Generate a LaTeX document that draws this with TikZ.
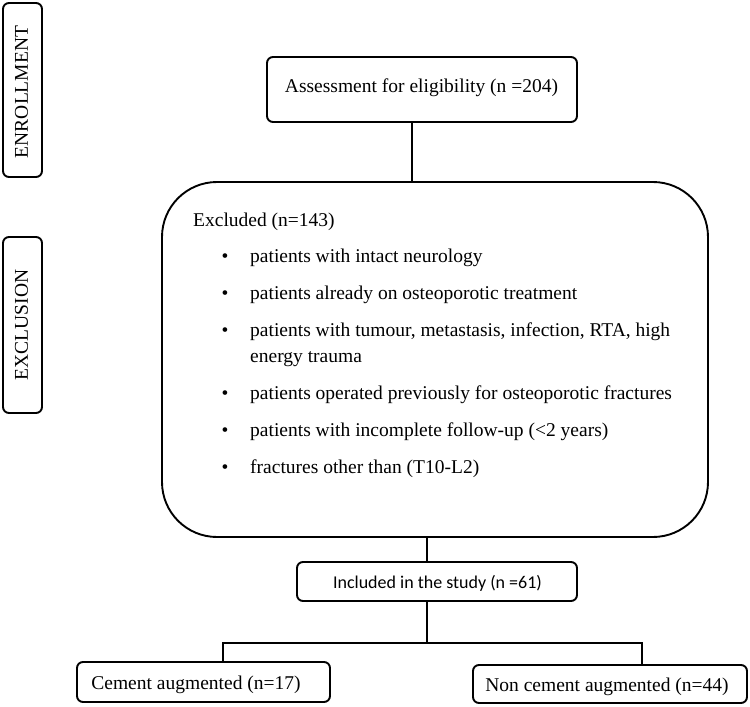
\documentclass[tikz,border=0pt]{standalone}
\usepackage{fontspec}
\setmainfont{Liberation Serif}
\newfontfamily\calib{Carlito}
\begin{document}
\begin{tikzpicture}[x=1pt,y=-1pt,
  box/.style={draw=black, line width=1.9pt, rounded corners=6pt, inner sep=0pt},
  bigbox/.style={draw=black, line width=1.9pt, rounded corners=55pt, inner sep=0pt},
  conn/.style={draw=black, line width=1.3pt},
  txt/.style={font=\fontsize{19.5}{23}\selectfont, inner sep=0pt},
  item/.style={txt, anchor=base west},
  bul/.style={txt, anchor=base}]
\useasboundingbox (0,0) rectangle (750,707);
% side labels
\node[box, minimum width=39pt, minimum height=174pt] (enr) at (22.5,90) {};
\node[txt, rotate=90] (enrt) at (21.5,92) {ENROLLMENT};
\node[box, minimum width=39pt, minimum height=176pt] (exc) at (22.5,325) {};
\node[txt, rotate=90] (exct) at (21.5,325) {EXCLUSION};
% assessment
\node[box, minimum width=310pt, minimum height=65pt] (assess) at (422,89.5) {};
\node[txt, anchor=base] (assesst) at (421.5,92) {Assessment for eligibility (n =204)};
% excluded box
\node[bigbox, minimum width=546pt, minimum height=355pt] (excl) at (435,359.5) {};
\node[item] (ex0) at (193,226) {Excluded (n=143)};
\node[bul] (b1) at (225,262) {•};
\node[item] (i1) at (250,262) {patients with intact neurology};
\node[bul] (b2) at (225,299) {•};
\node[item] (i2) at (250,299) {patients already on osteoporotic treatment};
\node[bul] (b3) at (225,336) {•};
\node[item] (i3) at (250,336) {patients with tumour, metastasis, infection, RTA, high};
\node[item] (i3b) at (250,362) {energy trauma};
\node[bul] (b4) at (225,399) {•};
\node[item] (i4) at (250,399) {patients operated previously for osteoporotic fractures};
\node[bul] (b5) at (225,436) {•};
\node[item] (i5) at (250,436) {patients with incomplete follow-up (<2 years)};
\node[bul] (b6) at (225,473) {•};
\node[item] (i6) at (250,473) {fractures other than (T10-L2)};
% included
\node[box, minimum width=280pt, minimum height=39pt] (incl) at (437,581.5) {};
\node[inner sep=0pt, anchor=base, font=\calib\fontsize{18}{22}\selectfont] (inclt) at (437.5,588) {Included in the study (n =61)};
% outcome boxes
\node[box, minimum width=253pt, minimum height=40pt] (cem) at (203.5,682) {};
\node[txt, anchor=base] (cemt) at (196,689) {Cement augmented (n=17)};
\node[box, minimum width=274pt, minimum height=38pt] (non) at (610,684) {};
\node[txt, anchor=base] (nont) at (607,691) {Non cement augmented (n=44)};
% connectors
\coordinate (c1) at (412,0);
\coordinate (c2) at (427,643);
\coordinate (jl) at (223,643);
\coordinate (jr) at (642,643);
\draw[conn] (assess.south -| c1) -- (excl.north -| c1);
\draw[conn] (excl.south -| c2) -- (incl.north -| c2);
\draw[conn] (incl.south -| c2) -- (c2);
\draw[conn] (cem.north -| jl) -- (jl) -- (jr) -- (non.north -| jr);
\end{tikzpicture}
\end{document}
